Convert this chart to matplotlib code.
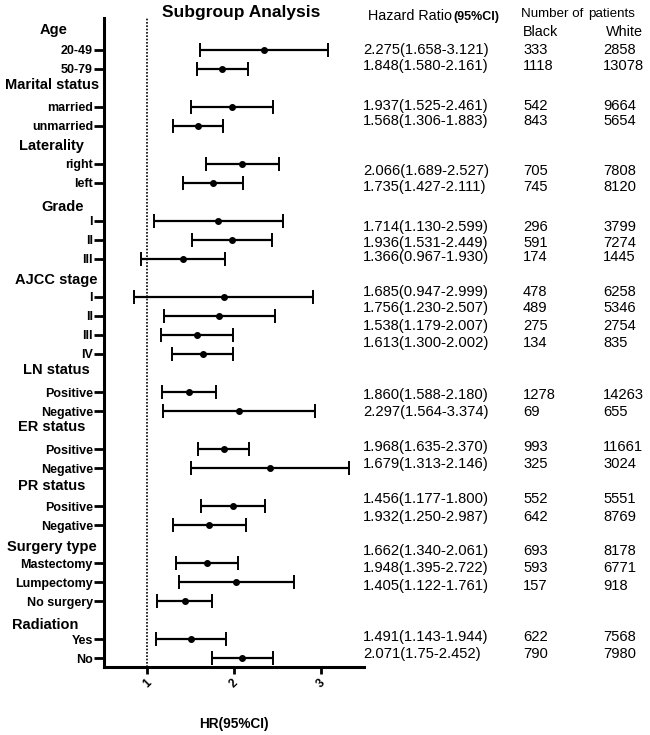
import matplotlib.pyplot as plt
import matplotlib.transforms as mtransforms

plt.rcParams["font.family"] = ["Liberation Sans", "DejaVu Sans"]

# %% DATA
groups = [
    "Age",
    "Marital status",
    "Laterality",
    "Grade",
    "AJCC stage",
    "LN status",
    "ER status",
    "PR status",
    "Surgery type",
    "Radiation",
]
subgroups = [
    ["20-49", "50-79"],
    ["married", "unmarried"],
    ["right", "left"],
    ["I", "II", "III"],
    ["I", "II", "III", "IV"],
    ["Positive", "Negative"],
    ["Positive", "Negative"],
    ["Positive", "Negative"],
    ["Mastectomy", "Lumpectomy", "No surgery"],
    ["Yes", "No"],
]

# Plotted hazard ratios and confidence limits (as drawn)
plot_hr = [2.35, 1.862, 1.977, 1.588, 2.096, 1.758, 1.815, 1.973, 1.412,
           1.881, 1.831, 1.577, 1.638, 1.481, 2.058, 1.881, 2.411, 1.992,
           1.712, 1.689, 2.023, 1.431, 1.50, 2.092]
plot_lo = [1.612, 1.577, 1.504, 1.296, 1.677, 1.415, 1.073, 1.515, 0.927,
           0.842, 1.188, 1.162, 1.288, 1.169, 1.181, 1.585, 1.504, 1.623,
           1.292, 1.327, 1.362, 1.112, 1.096, 1.742]
plot_hi = [3.088, 2.157, 2.450, 1.877, 2.515, 2.104, 2.561, 2.434, 1.900,
           2.915, 2.473, 1.992, 1.992, 1.792, 2.935, 2.173, 3.327, 2.361,
           2.134, 2.050, 2.692, 1.750, 1.912, 2.446]

# Table columns
hr_text = [
    "2.275(1.658-3.121)", "1.848(1.580-2.161)",
    "1.937(1.525-2.461)", "1.568(1.306-1.883)",
    "2.066(1.689-2.527)", "1.735(1.427-2.111)",
    "1.714(1.130-2.599)", "1.936(1.531-2.449)", "1.366(0.967-1.930)",
    "1.685(0.947-2.999)", "1.756(1.230-2.507)", "1.538(1.179-2.007)",
    "1.613(1.300-2.002)",
    "1.860(1.588-2.180)", "2.297(1.564-3.374)",
    "1.968(1.635-2.370)", "1.679(1.313-2.146)",
    "1.456(1.177-1.800)", "1.932(1.250-2.987)",
    "1.662(1.340-2.061)", "1.948(1.395-2.722)", "1.405(1.122-1.761)",
    "1.491(1.143-1.944)", "2.071(1.75-2.452)",
]
n_black = [333, 1118, 542, 843, 705, 745, 296, 591, 174, 478, 489, 275, 134,
           1278, 69, 993, 325, 552, 642, 693, 593, 157, 622, 790]
n_white = [2858, 13078, 9664, 5654, 7808, 8120, 3799, 7274, 1445, 6258, 5346,
           2754, 835, 14263, 655, 11661, 3024, 5551, 8769, 8178, 6771, 918,
           7568, 7980]

# %% LAYOUT
W, H = 650, 735
# table row centres in pixels (the table does not line up with the rows)
text_y = [50, 66, 106, 121, 171, 187, 227, 243, 257, 292, 308, 326, 343,
          395, 412, 447, 464, 499, 517, 551, 568, 586, 637, 654]
header_x = [54, 52, 51, 63, 56, 56, 52, 52, 52, 45]
header_dy = [-0.05, -0.16, 0.05, 0.25, 0.1, -0.15, -0.16, -0.05, 0.14, 0.26]


def fpos(x, y):
    return x / W, 1 - y / H


# Work out slot positions: one slot for the header, then the items
item_pos, item_labels, header_pos = [], [], []
slot = -1
for subs in subgroups:
    header_pos.append(slot)
    slot += 1
    for s in subs:
        item_pos.append(slot)
        item_labels.append(s)
        slot += 1

fig = plt.figure(figsize=(W / 100, H / 100), dpi=100)
ax = fig.add_axes([104 / W, (H - 667) / H, 260 / W, 649 / H])

xerr = [
    [h - l for h, l in zip(plot_hr, plot_lo)],
    [u - h for h, u in zip(plot_hr, plot_hi)],
]
ax.errorbar(
    plot_hr, item_pos, xerr=xerr, fmt="o", color="black", ms=4,
    elinewidth=1.6, capsize=5, capthick=1.4,
)
ax.axvline(1, color="black", ls=(0, (1, 1)), lw=1.2)

ax.set_xlim(0.5, 3.5)
ax.set_ylim(32.47, -1.68)
ax.set_xticks([1, 2, 3])
ax.set_xticklabels(["1", "2", "3"], rotation=45, fontsize=8.5, fontweight="bold")
ax.set_yticks(item_pos)
ax.set_yticklabels(item_labels, fontsize=9, fontweight="bold")
ax.tick_params(axis="y", length=7, width=2, pad=1)
ax.tick_params(axis="x", length=5, width=2, pad=2)
for side in ["top", "right"]:
    ax.spines[side].set_visible(False)
for side in ["left", "bottom"]:
    ax.spines[side].set_linewidth(2.2)

# Group headers
trans = mtransforms.blended_transform_factory(fig.transFigure, ax.transData)
for name, y, cx, dy in zip(groups, header_pos, header_x, header_dy):
    ax.text(cx / W, y + dy, name, transform=trans, ha="center", va="center",
            fontsize=10.5, fontweight="bold", clip_on=False)

# Titles
fig.text(*fpos(241, 13), "Subgroup Analysis", ha="center", va="center",
         fontsize=12.5, fontweight="bold")
fig.text(*fpos(234, 724), "HR(95%CI)", ha="center", va="center",
         fontsize=9.8, fontweight="bold")

# Table
fig.text(*fpos(368, 16), "Hazard Ratio", ha="left", va="center", fontsize=10.4)
fig.text(*fpos(453, 17), "(95%CI)", ha="left", va="center", fontsize=9,
         fontweight="bold")
fig.text(*fpos(521, 14), "Number of", ha="left", va="center", fontsize=9.6)
fig.text(*fpos(588, 14), "patients", ha="left", va="center", fontsize=9.6)
fig.text(*fpos(523, 32), "Black", ha="left", va="center", fontsize=10.4)
fig.text(*fpos(606, 32), "White", ha="left", va="center", fontsize=10.4)

for y, t, b, w in zip(text_y, hr_text, n_black, n_white):
    fig.text(*fpos(363, y), t, ha="left", va="center", fontsize=10.6)
    fig.text(*fpos(523, y), str(b), ha="left", va="center", fontsize=10.6)
    fig.text(*fpos(603, y), str(w), ha="left", va="center", fontsize=10.6)

fig.savefig("out.png", dpi=100)
